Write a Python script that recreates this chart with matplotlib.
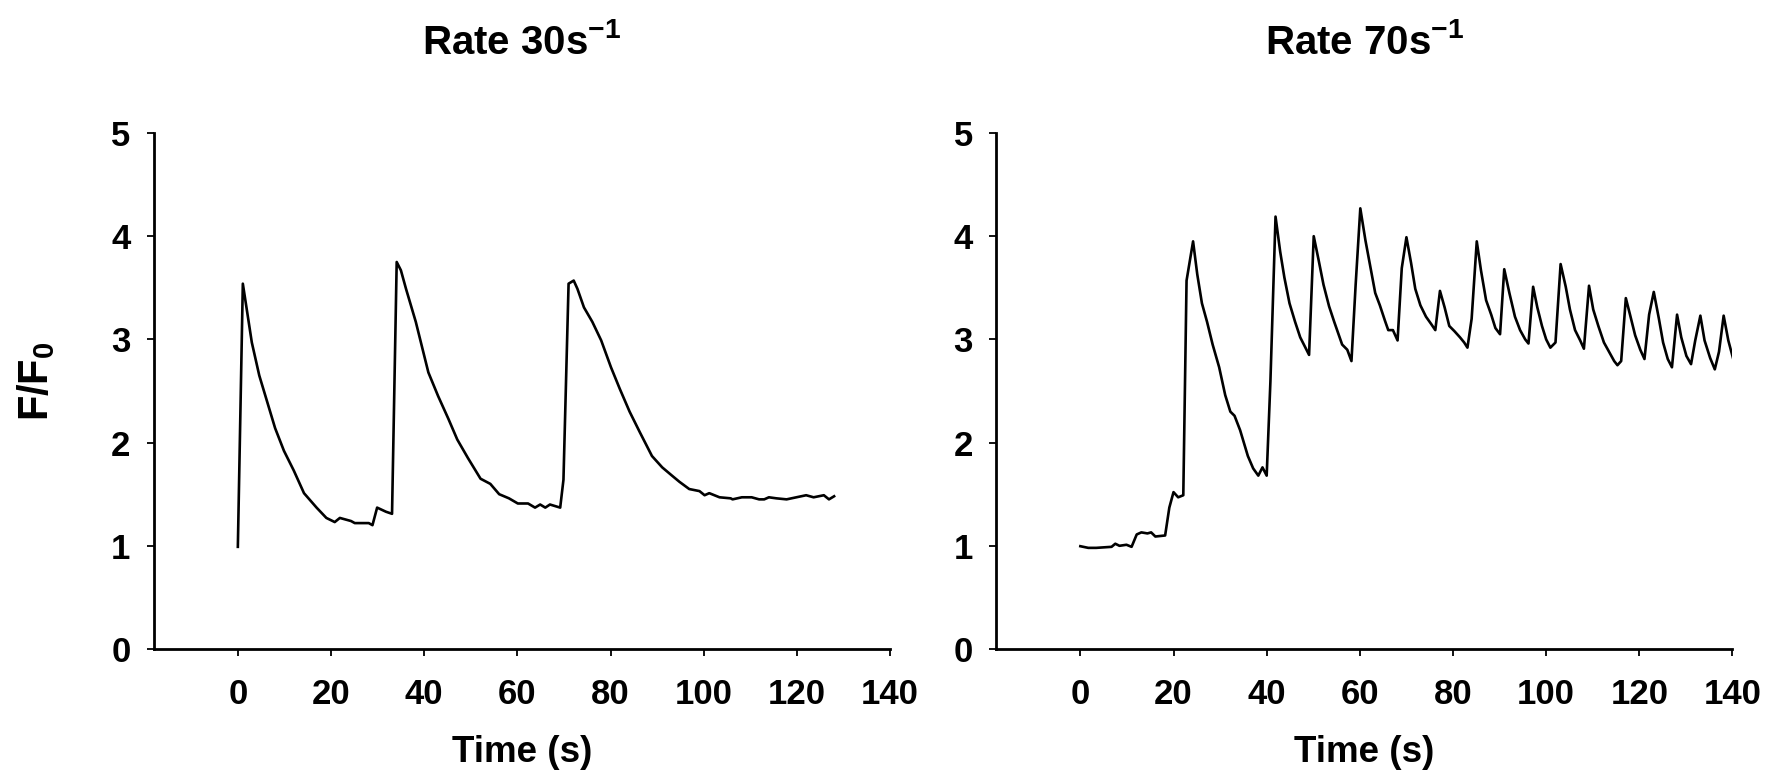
import matplotlib
matplotlib.use("Agg")
import matplotlib.pyplot as plt

plt.rcParams['font.family'] = ['Liberation Sans', 'DejaVu Sans']
plt.rcParams['mathtext.fontset'] = 'custom'
plt.rcParams['mathtext.rm'] = 'Liberation Sans'
plt.rcParams['mathtext.bf'] = 'Liberation Sans:bold'

# ---- data: Rate 30 s^-1 ----
t30 = [0, 1.07, 3, 4.6, 6.2, 8, 9.9, 12, 14.2, 16.9, 19, 20.8, 21.9, 24.3, 25.1,
       28.1, 28.9, 29.9, 31.8, 33.1, 34.1, 35, 36.1, 38.2, 40.9, 43, 45.2, 47.1,
       49.4, 52.1, 54.2, 56.1, 58.2, 60.1, 62.3, 63.8, 64.9, 66, 67, 69.2, 69.9,
       71, 72.1, 72.9, 74.3, 76.1, 78, 80.1, 82, 84.1, 86.3, 88.9, 91.1, 93.2,
       94.8, 96.9, 99.1, 100.2, 101.2, 103.4, 105.8, 106.2, 108.2, 110.3, 111.9,
       113, 114, 115.6, 117.8, 119.9, 122, 123.6, 125.8, 126.9, 128]
f30 = [0.99, 3.54, 2.97, 2.65, 2.41, 2.14, 1.92, 1.73, 1.51, 1.37, 1.27, 1.23, 1.27,
       1.24, 1.22, 1.22, 1.20, 1.37, 1.33, 1.31, 3.75, 3.67, 3.49, 3.17, 2.68, 2.45,
       2.23, 2.03, 1.85, 1.65, 1.60, 1.50, 1.46, 1.41, 1.41, 1.37, 1.40, 1.37, 1.40,
       1.37, 1.64, 3.54, 3.57, 3.49, 3.31, 3.17, 2.99, 2.73, 2.52, 2.30, 2.10, 1.87,
       1.76, 1.68, 1.62, 1.55, 1.53, 1.49, 1.51, 1.47, 1.46, 1.45, 1.47, 1.47, 1.45,
       1.45, 1.47, 1.46, 1.45, 1.47, 1.49, 1.47, 1.49, 1.45, 1.48]

# ---- data: Rate 70 s^-1 ----
t70 = [0, 1.7, 3.4, 6.7, 7.5, 8.4, 9.9, 11, 12.1, 13.1, 14.4, 15.2, 16.1, 18.2, 19.1,
       20, 21, 22.1, 22.8, 24.2, 25.1, 26.1, 27.2, 28.4, 29.8, 31.1, 32.2, 33.1,
       34.3, 35.96, 37.1, 38.2, 39.1, 40, 40.8, 41.9, 42.9, 43.8, 44.9, 46.1, 47.2,
       49.1, 50.1, 51.1, 52.2, 53.4, 54.5, 56.2, 57.3, 58.2, 59.1, 60.1, 61.2, 62.4,
       63.3, 64.3, 65.4, 66.1, 67.1, 68.1, 69, 70, 71, 71.9, 73, 74.2, 75.3, 76.2,
       77.2, 78.2, 79.2, 80.3, 81.5, 82.4, 83.1, 84, 85.1, 86, 87.1, 88.2, 89.1,
       90.1, 91, 92.1, 93.3, 94.4, 95.5, 96.2, 97.2, 98.1, 99.1, 100, 100.9, 102,
       103.1, 104.2, 105.1, 106.2, 107.3, 108.1, 109.2, 110.1, 111.2, 112.4, 113.5,
       114.6, 115.3, 116.1, 117.1, 118, 119.1, 120.2, 121.1, 122.1, 123.1, 124.2,
       125.1, 126.1, 127, 128.1, 129, 130.1, 131.1, 132, 133.1, 134, 135.2, 136.2,
       137.1, 138.1, 139.1, 140.1]
f70 = [0.996, 0.98, 0.98, 0.99, 1.02, 1.00, 1.01, 0.99, 1.11, 1.13, 1.12, 1.13, 1.09,
       1.10, 1.37, 1.52, 1.47, 1.49, 3.57, 3.95, 3.63, 3.35, 3.17, 2.95, 2.73, 2.46,
       2.30, 2.26, 2.12, 1.87, 1.75, 1.68, 1.76, 1.68, 2.59, 4.19, 3.85, 3.60, 3.35,
       3.17, 3.02, 2.85, 4.00, 3.78, 3.53, 3.32, 3.17, 2.95, 2.90, 2.79, 3.53, 4.27,
       3.96, 3.67, 3.45, 3.33, 3.18, 3.09, 3.09, 2.99, 3.69, 3.99, 3.74, 3.49, 3.33,
       3.22, 3.15, 3.09, 3.47, 3.31, 3.13, 3.08, 3.02, 2.97, 2.92, 3.20, 3.95, 3.67,
       3.38, 3.24, 3.11, 3.05, 3.68, 3.45, 3.22, 3.09, 3.00, 2.96, 3.51, 3.31, 3.13,
       3.00, 2.92, 2.97, 3.73, 3.51, 3.29, 3.09, 2.99, 2.91, 3.52, 3.29, 3.13, 2.97,
       2.88, 2.79, 2.75, 2.79, 3.40, 3.24, 3.04, 2.90, 2.81, 3.24, 3.46, 3.20, 2.97,
       2.81, 2.73, 3.24, 3.02, 2.84, 2.76, 2.99, 3.23, 2.99, 2.82, 2.71, 2.88, 3.23,
       2.99, 2.82]

xticks = [0, 20, 40, 60, 80, 100, 120, 140]
yticks = [0, 1, 2, 3, 4, 5]
titles = [r'Rate 30s$^{\mathbf{-1}}$', r'Rate 70s$^{\mathbf{-1}}$']

W, H = 1781, 782
fig = plt.figure(figsize=(W / 100, H / 100), dpi=100)

ax_w = 736 / W
ax_b = (H - 649) / H
ax_h = (649 - 133) / H
lefts = [154 / W, 996.5 / W]
series = [(t30, f30), (t70, f70)]

for i, (left, (tx, fy)) in enumerate(zip(lefts, series)):
    ax = fig.add_axes([left, ax_b, ax_w, ax_h])
    ax.plot(tx, fy, color='black', lw=1.9)
    ax.set_xlim(-18, 140)
    ax.set_ylim(0, 5)
    ax.set_xticks(xticks)
    ax.set_yticks(yticks)
    for s in ['top', 'right']:
        ax.spines[s].set_visible(False)
    for s in ['left', 'bottom']:
        ax.spines[s].set_linewidth(2.0)
    ax.tick_params(direction='out', length=5, width=1.3, labelsize=25,
                   colors='black')
    ax.tick_params(axis='x', pad=16)
    ax.tick_params(axis='y', pad=12)
    for lab in ax.get_xticklabels() + ax.get_yticklabels():
        lab.set_fontweight('bold')
    cx = left + ax_w / 2
    fig.text(cx, 1 - 42 / H, titles[i], ha='center', va='center',
             fontsize=29, fontweight='bold')
    fig.text(cx, 1 - 752 / H, 'Time (s)', ha='center', va='center',
             fontsize=26.5, fontweight='bold')

fig.text(36 / W, 1 - 381 / H, r'F/F$_\mathbf{0}$', rotation=90, ha='center',
         va='center', fontsize=30, fontweight='bold')

fig.savefig('out.png', dpi=100, facecolor='white')
